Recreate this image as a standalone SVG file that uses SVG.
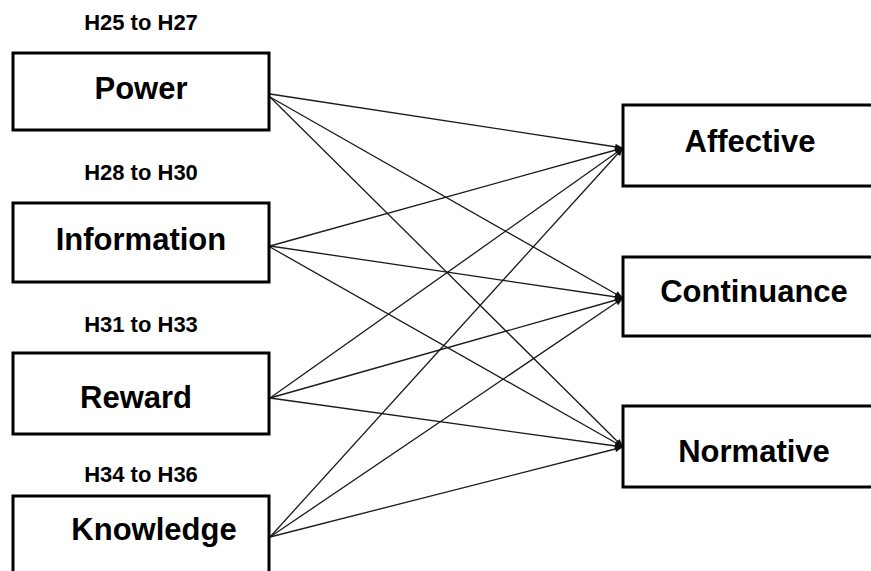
<svg xmlns="http://www.w3.org/2000/svg" width="871" height="571" viewBox="0 0 871 571">
<defs>
<marker id="ah" viewBox="0 0 10 10" refX="10" refY="5" markerWidth="10" markerHeight="8" markerUnits="userSpaceOnUse" orient="auto">
<path d="M0,1 L10,5 L0,9 z" fill="#111"/>
</marker>
<style>
.box{fill:#fff;stroke:#000;stroke-width:3}
.lbl{font-family:"Liberation Sans",Arial,sans-serif;font-weight:bold;font-size:31px;fill:#000;text-anchor:middle}
.hyp{font-family:"Liberation Sans",Arial,sans-serif;font-weight:bold;font-size:22px;fill:#000;text-anchor:middle}
.c{stroke:#1a1a1a;stroke-width:1.3;fill:none;marker-end:url(#ah)}
</style>
</defs>
<rect width="871" height="571" fill="#fff"/>
<g id="connectors">
<line class="c" x1="270" y1="94" x2="623" y2="148"/>
<line class="c" x1="270" y1="97" x2="623" y2="298"/>
<line class="c" x1="270" y1="97" x2="623" y2="447"/>
<line class="c" x1="270" y1="246" x2="623" y2="148"/>
<line class="c" x1="270" y1="246" x2="623" y2="298"/>
<line class="c" x1="270" y1="247" x2="623" y2="447"/>
<line class="c" x1="270" y1="398" x2="623" y2="148"/>
<line class="c" x1="270" y1="398" x2="623" y2="298"/>
<line class="c" x1="270" y1="398" x2="623" y2="447"/>
<line class="c" x1="270" y1="537" x2="623" y2="148"/>
<line class="c" x1="270" y1="537" x2="623" y2="298"/>
<line class="c" x1="270" y1="537" x2="623" y2="447"/>
</g>
<g id="power">
<text class="hyp" x="141" y="30">H25 to H27</text>
<rect class="box" x="13" y="53" width="256" height="77"/>
<text class="lbl" x="141" y="99">Power</text>
</g>
<g id="information">
<text class="hyp" x="141" y="180">H28 to H30</text>
<rect class="box" x="13" y="203" width="256" height="79"/>
<text class="lbl" x="141" y="250">Information</text>
</g>
<g id="reward">
<text class="hyp" x="141" y="332">H31 to H33</text>
<rect class="box" x="13" y="353" width="256" height="81"/>
<text class="lbl" x="136" y="408">Reward</text>
</g>
<g id="knowledge">
<text class="hyp" x="141" y="482">H34 to H36</text>
<rect class="box" x="13" y="496" width="256" height="90"/>
<text class="lbl" x="154" y="540">Knowledge</text>
</g>
<g id="affective">
<rect class="box" x="623" y="105" width="260" height="81"/>
<text class="lbl" x="750" y="152">Affective</text>
</g>
<g id="continuance">
<rect class="box" x="623" y="257" width="260" height="79"/>
<text class="lbl" x="754" y="302">Continuance</text>
</g>
<g id="normative">
<rect class="box" x="623" y="406" width="260" height="81"/>
<text class="lbl" x="754" y="462">Normative</text>
</g>
</svg>
